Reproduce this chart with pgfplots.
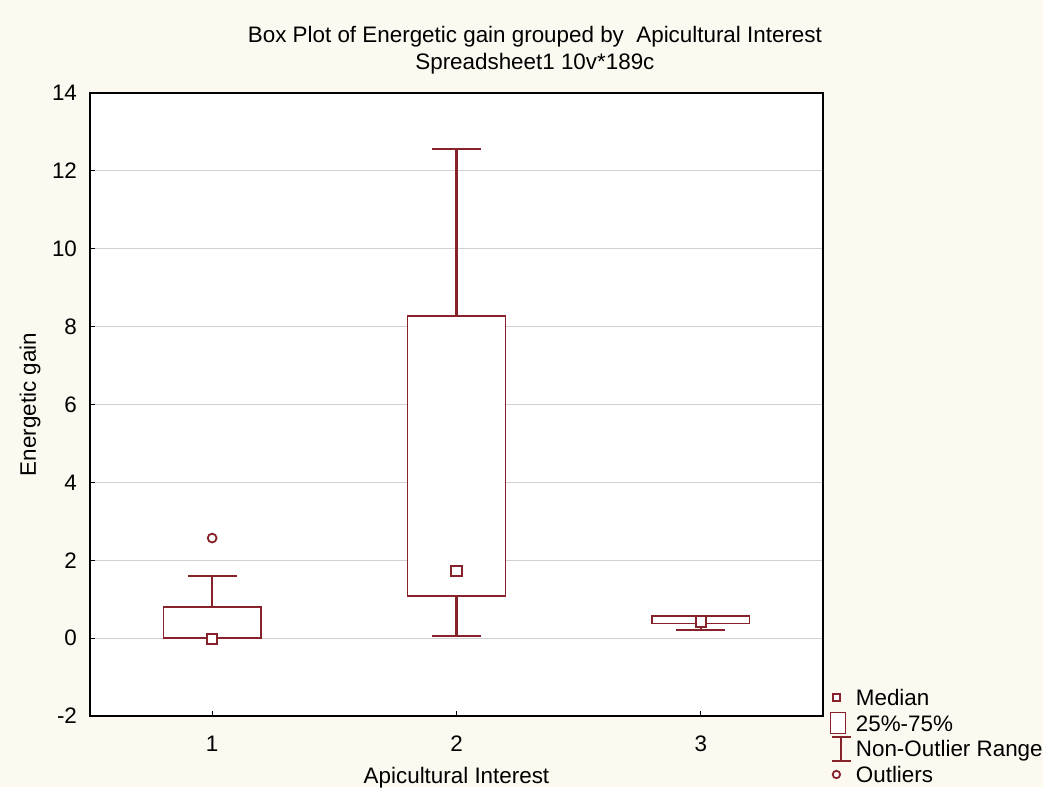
\documentclass[border=0pt]{standalone}
\usepackage{fontspec}
\setmainfont{Liberation Sans}
\usepackage{pgfplots}
\pgfplotsset{compat=1.18}
\usepgfplotslibrary{statistics}
\definecolor{dred}{RGB}{136,34,42}
\definecolor{cream}{RGB}{252,249,240}
\begin{document}
\begin{tikzpicture}
\useasboundingbox (-45pt,-35.5pt) rectangle (476.5pt,358pt);
\fill[cream] (-45pt,-35.5pt) rectangle (476.5pt,358pt);
\clip (-45pt,-35.5pt) rectangle (476.5pt,358pt);
\begin{axis}[
  at={(0pt,0pt)}, anchor=south west,
  scale only axis, width=366.5pt, height=311.5pt,
  xmin=0.5, xmax=3.5, ymin=-2, ymax=14,
  xtick={1,2,3}, ytick={-2,0,2,4,6,8,10,12,14},
  xtick pos=left, ytick pos=left, tick align=inside,
  major tick length=2.5pt,
  tick style={black, line width=0.6pt},
  axis line style={black, line width=0.8pt},
  axis background/.style={fill=white},
  ymajorgrids, grid style={black!18, line width=0.5pt},
  /pgf/number format/assume math mode=true,
  tick label style={font=\fontsize{11.2}{13}\selectfont},
  yticklabel style={xshift=-3pt},
  xticklabel style={yshift=-6.5pt},
  xlabel={Apicultural Interest}, ylabel={Energetic gain},
  every axis x label/.style={at={(axis description cs:0.5,0)}, yshift=-31pt, anchor=center, font=\fontsize{11.2}{13}\selectfont},
  every axis y label/.style={at={(axis description cs:0,0.5)}, xshift=-30pt, rotate=90, anchor=center, font=\fontsize{11.2}{13}\selectfont},
  boxplot/draw direction=y,
  boxplot/box extend=0.4,
  boxplot/whisker extend=0.2,
  boxplot/every box/.style={draw=dred, line width=0.65pt, fill=white},
  boxplot/every whisker/.style={draw=dred, line width=1.1pt},
  boxplot/draw/median/.code={},
  legend style={draw=none, fill=none, inner sep=0pt, row sep=-2.15pt,
    at={(axis description cs:1.00955,0.05457)}, anchor=north west,
    font=\fontsize{11.2}{13}\selectfont,
    cells={anchor=west, inner sep=0pt, text height=9.5pt, text depth=3.35pt},
    /tikz/column sep=0pt},
  clip=false,
]
\addplot[forget plot, boxplot prepared={draw position=1, lower whisker=0, lower quartile=0, median=0, upper quartile=0.8, upper whisker=1.6}] coordinates {};
\addplot[forget plot, boxplot prepared={draw position=2, lower whisker=0.05, lower quartile=1.08, median=1.72, upper quartile=8.27, upper whisker=12.56}] coordinates {};
\addplot[forget plot, boxplot prepared={draw position=3, lower whisker=0.21, lower quartile=0.37, median=0.42, upper quartile=0.57, upper whisker=0.57}] coordinates {};
% medians
\addplot[forget plot, only marks, mark=square*, mark size=2.6pt, draw=dred, fill=white, line width=0.9pt] coordinates {(1,-0.02) (2,1.72) (3,0.42)};
% outliers
\addplot[forget plot, only marks, mark=*, mark size=2.2pt, draw=dred, fill=white, line width=0.9pt] coordinates {(1,2.57)};
% legend
\addlegendimage{legend image code/.code={\draw[draw=dred, line width=0.9pt, fill=white] (0.9pt,-1.75pt) rectangle (4.4pt,1.75pt); \path (10pt,0pt) (0pt,0pt);}}
\addlegendentry{Median}
\addlegendimage{legend image code/.code={\draw[draw=dred, line width=0.5pt, fill=white] (0pt,-5.25pt) rectangle (7.5pt,5.25pt); \path (10pt,0pt);}}
\addlegendentry{25\%-75\%}
\addlegendimage{legend image code/.code={\draw[draw=dred, line width=1pt] (0.5pt,6pt) -- (10pt,6pt) (5.25pt,6pt) -- (5.25pt,-6pt) (0.5pt,-6pt) -- (10pt,-6pt); \path (0pt,0pt);}}
\addlegendentry{Non-Outlier Range}
\addlegendimage{legend image code/.code={\draw[draw=dred, line width=0.9pt, fill=white] (2.75pt,0pt) circle (1.85pt); \path (10pt,0pt) (0pt,0pt);}}
\addlegendentry{Outliers}
\node[anchor=base, font=\fontsize{11.2}{13}\selectfont] at ([yshift=25pt]axis description cs:0.607,1) {Box Plot of Energetic gain grouped by\ \ Apicultural Interest};
\node[anchor=base, font=\fontsize{11.2}{13}\selectfont] at ([yshift=11.5pt]axis description cs:0.607,1) {Spreadsheet1 10v*189c};
\end{axis}
\end{tikzpicture}
\end{document}
